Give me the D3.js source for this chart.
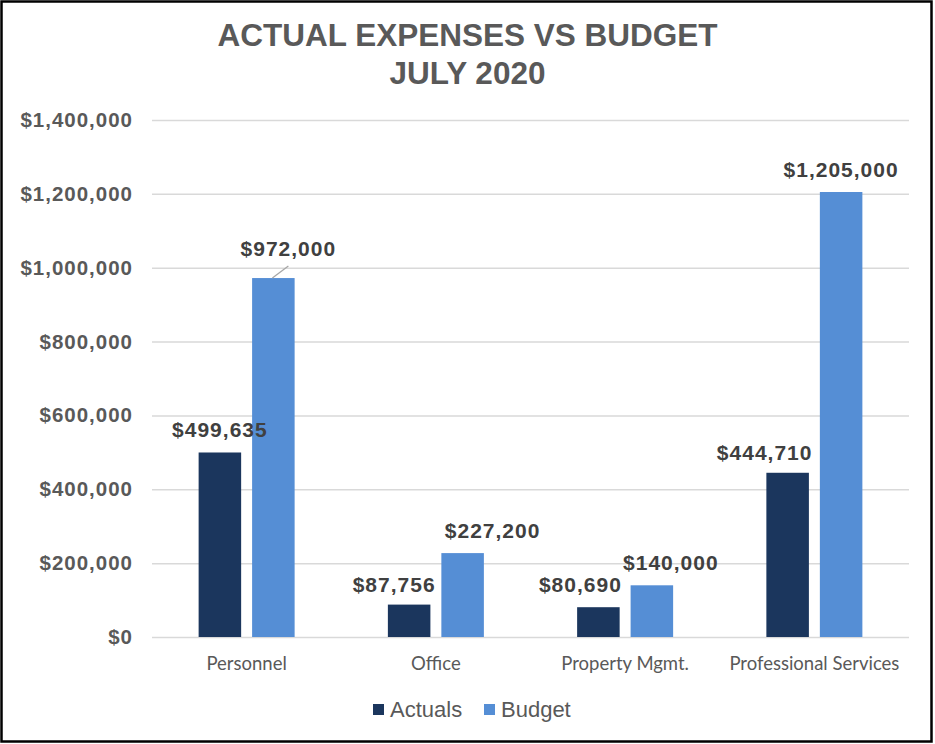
<!DOCTYPE html>
<html>
<head>
<meta charset="utf-8">
<script src="https://cdn.jsdelivr.net/npm/d3@7"></script>
<style>
  html, body { margin: 0; padding: 0; background: #fff; }
  svg { display: block; }
</style>
</head>
<body>
<div id="chart"></div>
<script>
// Actual expenses vs budget, July 2020 - clustered bars
const categories = ['Personnel', 'Office', 'Property Mgmt.', 'Professional Services'];
const seriesNames = ['Actuals', 'Budget'];
const actuals = [499635, 87756, 80690, 444710];
const budget = [972000, 227200, 140000, 1205000];
const yTicks = [0, 200000, 400000, 600000, 800000, 1000000, 1200000, 1400000];

// manual label nudges (Excel moved some labels around)
const labelNudge = {
  Actuals: [[0, 0], [-15, 2], [-18, 0], [-23, 2]],
  Budget: [[15, -7], [30, 0], [19, 0], [0, 0]]
};

const W = 935, H = 744;
const margin = {top: 120, right: 26, bottom: 107, left: 152};
const width = W - margin.left - margin.right;
const height = H - margin.top - margin.bottom;

const colors = {Actuals: '#1b365d', Budget: '#558ed5'};

const data = categories.map((c, i) => ({
  category: c,
  i: i,
  values: [
    {key: 'Actuals', value: actuals[i]},
    {key: 'Budget', value: budget[i]}
  ]
}));

const root = d3.select('#chart')
  .append('svg')
  .attr('width', W)
  .attr('height', H);

// outer frame
root.append('rect')
  .attr('x', 1.5)
  .attr('y', 1.5)
  .attr('width', 930)
  .attr('height', 740)
  .attr('fill', '#fff')
  .attr('stroke', '#000')
  .attr('stroke-width', 2.5);

// title
const title = root.append('text')
  .attr('text-anchor', 'middle')
  .attr('font-family', 'Arial, "Liberation Sans", sans-serif')
  .attr('font-size', '31.5px')
  .attr('font-weight', '700')
  .attr('fill', '#595959');
title.append('tspan').attr('x', W / 2).attr('y', 46).text('ACTUAL EXPENSES VS BUDGET');
title.append('tspan').attr('x', W / 2).attr('y', 84).text('JULY 2020');

const svg = root.append('g')
  .attr('transform', `translate(${margin.left},${margin.top})`);

const y = d3.scaleLinear()
  .domain([0, 1400000])
  .range([height, 0]);

const x0 = d3.scaleBand()
  .domain(categories)
  .range([0, width])
  .padding(0);

const groupW = 96;
const x1 = d3.scaleBand()
  .domain(seriesNames)
  .range([x0.bandwidth() / 2 - groupW / 2, x0.bandwidth() / 2 + groupW / 2])
  .paddingInner(0.205);

// y axis + grid
const yAxis = svg.append('g')
  .attr('class', 'y axis')
  .call(d3.axisLeft(y)
    .tickValues(yTicks)
    .tickSize(-width)
    .tickPadding(19)
    .tickFormat(d => '$' + d3.format(',')(d)));
yAxis.select('.domain').remove();
yAxis.selectAll('line')
  .attr('stroke', '#d9d9d9')
  .attr('stroke-width', 1.5);
yAxis.selectAll('text')
  .attr('font-family', 'Arial, "Liberation Sans", sans-serif')
  .attr('font-size', '20.5px')
  .attr('font-weight', '700')
  .attr('letter-spacing', '1px')
  .attr('fill', '#595959');

// x axis
const xAxis = svg.append('g')
  .attr('class', 'x axis')
  .attr('transform', `translate(0,${height})`)
  .call(d3.axisBottom(x0).tickSize(0).tickPadding(20));
xAxis.select('.domain').remove();
xAxis.selectAll('text')
  .attr('font-family', 'Lato, "Open Sans", sans-serif')
  .attr('font-size', '18.5px')
  .attr('fill', '#595959');

// bars
const groups = svg.selectAll('.group')
  .data(data)
  .enter()
  .append('g')
  .attr('class', 'group')
  .attr('transform', d => `translate(${x0(d.category)},0)`);

groups.selectAll('rect')
  .data(d => d.values.map(v => ({...v, i: d.i})))
  .enter()
  .append('rect')
  .attr('x', d => x1(d.key))
  .attr('y', d => y(d.value))
  .attr('width', x1.bandwidth())
  .attr('height', d => height - y(d.value))
  .attr('fill', d => colors[d.key]);

// data labels
const fmt = d => '$' + d3.format(',')(d);
groups.selectAll('.label')
  .data(d => d.values.map(v => ({...v, i: d.i})))
  .enter()
  .append('text')
  .attr('class', 'label')
  .attr('x', d => x1(d.key) + x1.bandwidth() / 2 + labelNudge[d.key][d.i][0])
  .attr('y', d => y(d.value) - 15 + labelNudge[d.key][d.i][1])
  .attr('text-anchor', 'middle')
  .attr('font-family', 'Arial, "Liberation Sans", sans-serif')
  .attr('font-size', '21px')
  .attr('font-weight', '700')
  .attr('letter-spacing', '1px')
  .attr('fill', '#404040')
  .text(d => fmt(d.value));

// leader line for the personnel budget label
const lead = data[0].values[1];
const bx = x0(data[0].category) + x1('Budget') + x1.bandwidth() / 2;
svg.append('line')
  .attr('x1', bx - 1)
  .attr('y1', y(lead.value))
  .attr('x2', bx + labelNudge.Budget[0][0])
  .attr('y2', y(lead.value) - 12)
  .attr('stroke', '#a6a6a6')
  .attr('stroke-width', 1.3);

// legend
const legend = root.append('g')
  .attr('transform', `translate(373,${H - 40})`);
seriesNames.forEach((s, i) => {
  const g = legend.append('g').attr('transform', `translate(${i === 0 ? 0 : 111},0)`);
  g.append('rect')
    .attr('x', 0)
    .attr('y', 0)
    .attr('width', 11)
    .attr('height', 11)
    .attr('fill', colors[s]);
  g.append('text')
    .attr('x', 17)
    .attr('y', 13)
    .attr('font-family', 'Arial, "Liberation Sans", sans-serif')
    .attr('font-size', '22px')
    .attr('fill', '#595959')
    .text(s);
});
</script>
</body>
</html>
